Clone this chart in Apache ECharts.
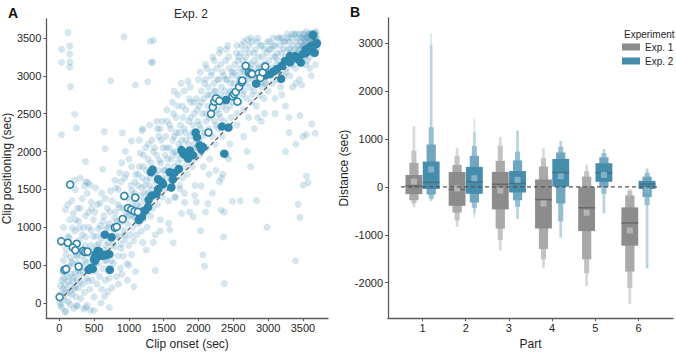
<!DOCTYPE html>
<html><head><meta charset="utf-8">
<script src="https://cdn.jsdelivr.net/npm/echarts@6/dist/echarts.min.js"></script>
<style>html,body{margin:0;padding:0;background:#fff}#c{width:676px;height:355px}</style>
</head><body><div id="c"></div>
<script>
// ---------- Panel A data (Clip onset, Clip positioning) ----------
const cloudPoints = [
[5,10],[20,120],[35,-60],[40,300],[55,190],[60,560],[70,40],[75,420],[85,250],[95,-110],[100,640],[105,130],[115,350],[125,880],[130,20],[140,480],[150,230],[155,-20],[165,600],[170,380],[180,110],[185,760],[195,290],[200,520],[210,-70],[215,180],[225,950],[230,400],[240,80],[245,640],[255,300],[260,-40],[270,520],[280,200],[290,830],[295,380],
[60,1000],[90,1230],[120,1300],[150,1100],[180,1350],[200,1180],[230,1500],[260,1250],[280,1080],[220,1620],[300,1650],[380,1600],[364,1546],[411,1589],
[310,60],[320,480],[330,700],[340,250],[350,1000],[360,140],[370,560],[380,870],[390,330],[400,-30],[410,650],[420,1200],[430,420],[440,180],[450,760],[460,960],[470,300],[480,560],[490,1100],[500,80],[510,700],[520,420],[530,880],[540,250],[550,1300],[560,520],[570,780],[580,350],[590,1020],[600,620],[610,180],[620,900],[630,450],[640,1150],[650,700],[660,300],[670,980],[680,560],[690,1250],[700,800],
[330,1380],[400,1450],[460,1330],[520,1520],[610,1450],[300,1250],[440,1560],[350,-80],[500,-100],[600,0],[650,90],[700,150],[720,-60],[720,330],[80,-120],[250,-30],[380,-60],[450,-100],
[710,420],[720,1050],[740,640],[750,860],[760,1350],[780,520],[790,960],[800,740],[810,1200],[820,350],[830,1080],[840,620],[850,1500],[860,880],[870,1260],[880,460],[890,780],[900,1100],[910,1400],[920,620],[930,960],[940,1650],[950,840],[960,1200],[970,520],[980,1050],[990,1380],[1000,760],[1010,1150],[1020,900],[1030,1550],[1040,640],[1050,1300],[1060,1000],[1070,820],[1080,1450],[1090,1120],[1100,1700],
[760,200],[850,250],[900,380],[980,300],[1072,215],[1095,416],[1000,500],[800,1620],[900,1850],[1000,1900],[870,1720],[950,2000],[623,1765],[378,1868],
[1110,900],[1120,1300],[1130,1550],[1140,1050],[1150,1800],[1160,1200],[1170,1420],[1180,950],[1190,1650],[1200,1100],[1210,1950],[1220,1350],[1230,1550],[1240,1200],[1250,1750],[1260,1000],[1270,1450],[1280,2100],[1290,1300],[1300,1650],[1310,1150],[1320,1850],[1330,1500],[1340,1250],[1350,2000],[1360,1700],[1370,1400],[1380,900],[1390,1600],[1400,1950],[1410,1300],[1420,1750],[1430,2200],[1440,1500],[1450,1100],[1460,1850],[1470,1650],[1480,1400],[1490,2050],[1500,1750],
[1378,429],[1250,700],[1350,800],[1450,950],[1200,800],[1200,2300],[1300,2350],[1400,2400],[1450,2300],[1150,2150],[647,2263],[661,2036],[906,2246],[1038,2139],[1190,2276],
[1510,1500],[1520,1950],[1530,2200],[1540,1650],[1550,2400],[1560,1800],[1570,1350],[1580,2050],[1590,1700],[1600,2300],[1610,1900],[1620,1550],[1630,2150],[1640,2500],[1650,1800],[1660,2000],[1670,1400],[1680,2250],[1690,1950],[1700,2600],[1710,1750],[1720,2100],[1730,1550],[1740,2350],[1750,1900],[1760,2150],[1770,1650],[1780,2450],[1790,2000],[1800,1800],[1810,2250],[1820,2550],[1830,1950],[1840,1700],[1850,2100],[1860,2400],[1870,1850],[1880,2200],[1890,2650],[1900,2000],[1910,1800],[1920,2350],[1930,2100],[1940,2500],[1950,1900],[1960,2250],[1970,2700],[1980,2050],[1990,2400],[2000,2150],
[1568,1053],[1590,966],[1638,795],[1661,1396],[1732,1504],[1756,1181],[1803,1331],[1874,1202],[1922,1138],[1945,1418],[1969,1331],[1950,1550],[1800,1450],[1647,2800],[1750,2900],[1850,2930],[2000,2950],
[2010,2600],[2020,1950],[2030,2300],[2040,2800],[2050,2100],[2060,2500],[2070,1800],[2080,2700],[2090,2250],[2100,2950],[2110,2400],[2120,2050],[2130,2600],[2140,2850],[2150,2300],[2160,1900],[2170,2750],[2180,2500],[2190,3050],[2200,2200],[2210,2650],[2220,2900],[2230,2400],[2240,2100],[2250,2800],[2260,3100],[2270,2550],[2280,2300],[2290,2950],[2300,2700],[2310,2450],[2320,3150],[2330,2850],[2340,2200],[2350,2600],[2360,3000],[2370,2400],[2380,2800],[2390,3200],[2400,2550],[2410,2950],[2420,2300],[2430,2750],[2440,3100],[2450,2600],[2460,2900],[2470,2450],[2480,3050],[2490,2800],[2500,2650],
[2040,1546],[2030,954],[2064,635],[2087,486],[2134,1310],[2100,1200],[2200,1450],[2323,1224],[2370,1202],[2361,872],[2370,258],[2300,1600],[2330,1650],[2350,1700],[2250,1750],[2400,1950],[2450,2100],[2488,1344],[2430,1900],[2150,1700],[2224,3200],[2100,3150],[2300,3300],[2400,3350],
[2510,2900],[2520,3150],[2530,2700],[2540,3300],[2550,2500],[2560,3000],[2570,2850],[2580,3250],[2590,2650],[2600,3100],[2610,2950],[2620,3400],[2630,2750],[2640,3200],[2650,2550],[2660,3050],[2670,2900],[2680,3350],[2690,2700],[2700,3150],[2710,3000],[2720,2450],[2730,3300],[2740,2850],[2750,3100],[2760,2650],[2770,3450],[2780,2950],[2790,3200],[2800,2800],[2810,3050],[2820,3350],[2830,2600],[2840,3150],[2850,2900],[2860,3250],[2870,3000],[2880,2750],[2890,3400],[2900,3100],[2910,2850],[2920,3250],[2930,3000],[2940,2700],[2950,3350],[2960,3150],[2970,2900],[2980,3050],[2990,3450],[3000,2800],
[2833,1353],[2600,1350],[2700,2000],[2650,2200],[2800,2300],[2950,2500],[2900,2400],[2984,1001],[2750,1800],[2550,2350],[2850,2450],[2550,3400],[2650,3450],[2750,3500],[2850,3500],[2700,3480],
[3010,3200],[3020,3450],[3030,3000],[3040,3350],[3050,3100],[3060,2900],[3070,3500],[3080,3250],[3090,3050],[3100,3400],[3110,3150],[3120,2950],[3130,3300],[3140,3500],[3150,3200],[3160,3050],[3170,3400],[3180,2850],[3190,3300],[3200,3500],[3210,3150],[3220,3350],[3230,3000],[3240,3450],[3250,3250],[3260,3100],[3270,3550],[3280,3350],[3290,3200],[3300,3450],[3310,3000],[3320,3300],[3330,3500],[3340,3150],[3350,3400],[3360,3250],[3370,3550],[3380,3350],[3390,3100],[3400,3450],[3410,3300],[3420,3500],[3430,3200],[3440,3400],[3450,3550],[3460,3350],[3470,3250],[3480,3500],[3490,3400],[3500,3300],
[3100,2700],[3200,2750],[3250,2600],[3350,2850],[3400,2900],[3450,2950],[3300,2450],[3395,558],[3432,1302],[3456,1130],[3503,1555],[3574,1589],[3551,1675],[3300,2250],[3456,2475],[3500,2200],[3400,2100],[3250,2000],[3100,2500],[3485,2878],[3627,2362],[3547,2225],[3675,2242],
[3505,3500],[3510,3400],[3520,3550],[3530,3300],[3540,3450],[3550,3580],[3560,3350],[3570,3500],[3580,3420],[3590,3550],[3600,3250],[3610,3480],[3620,3380],[3630,3560],[3640,3450],[3650,3520],[3660,3400],[3670,3570],[3680,3480],[3690,3530],[3700,3440],[3560,3200],[3600,3100],[3650,3300],[3700,3350],[3620,3000],[3680,3150],[3540,3150],[3520,3480],[3580,3530],[3640,3500],[3690,3580],[3600,3560],[3660,3470],
[127,3573],[33,3350],[33,3180],[151,3393],[151,3286],[151,3180],[151,3115],[160,2857],[222,2491],[245,2311],[33,2221],[930,3514],[1307,3457],[1355,3470],[1322,3180],[1341,3180],[741,2934],[1095,2878],[1270,2921]
];
const cloudPointsBand = [
[15,230],[45,80],[65,330],[88,170],[110,470],[135,290],[160,150],[178,540],[205,340],[232,210],[258,610],[275,430],[302,280],[322,620],[345,410],[368,760],[392,530],[415,290],[438,650],[462,420],[485,880],[20,-30],[48,410],[93,720],[143,860],[188,990],[236,1100],[285,990],[333,900],[377,1150],[423,1000],[467,1250],
[515,520],[538,760],[562,980],[585,660],[608,850],[632,1080],[655,560],[678,760],[702,1000],[725,1200],[748,560],[772,780],[795,1120],[818,880],[842,1300],[865,1050],[888,720],[912,1250],[935,900],[958,1420],[982,1150],[512,1200],[588,1320],[662,1380],[738,1480],[812,1520],[887,1600],[962,1700],
[1015,1250],[1042,1480],[1065,1150],[1088,1600],[1112,1380],[1135,1700],[1158,1280],[1182,1520],[1205,1800],[1228,1450],[1252,1620],[1275,1900],[1298,1550],[1322,1420],[1345,1780],[1368,2050],[1392,1700],[1415,1500],[1438,1880],[1462,2150],[1485,1600],[1040,1800],[1160,1980],[1240,2050],[1330,2150],[1410,2300],[1480,2400],
[1515,1750],[1538,2050],[1562,1900],[1585,2350],[1608,1620],[1632,1980],[1655,2200],[1678,2450],[1702,1850],[1725,2250],[1748,2050],[1772,2600],[1795,2300],[1818,2150],[1842,1950],[1865,2700],[1888,2450],[1912,2250],[1935,2650],[1958,2050],[1982,2550],[1545,2550],[1625,2650],[1705,2750],[1795,2800],[1880,2850],
[2015,2350],[2038,2650],[2062,2200],[2085,2900],[2108,2500],[2132,2750],[2155,2450],[2178,3000],[2202,2600],[2225,2800],[2248,2350],[2272,2950],[2295,2500],[2318,2750],[2342,3050],[2365,2650],[2388,2950],[2412,2700],[2435,3250],[2458,2800],[2482,3000],[2025,3050],[2120,3100],[2205,3250],[2310,3350],[2420,3400],
[2515,3050],[2538,2800],[2562,3200],[2585,2950],[2608,3300],[2632,3050],[2655,2800],[2678,3250],[2702,2950],[2725,3400],[2748,3150],[2772,2750],[2795,3300],[2818,3000],[2842,3450],[2865,3100],[2888,2900],[2912,3400],[2935,3150],[2958,2900],[2982,3300],
[3015,3350],[3045,3050],[3075,3400],[3105,3250],[3135,3050],[3165,3500],[3195,3150],[3225,3450],[3255,3050],[3285,3500],[3315,3350],[3345,3550],[3375,3200],[3405,3550],[3435,3350],[3465,3450],[3495,3550],[3525,3400],[3555,3500],[3585,3350],[3615,3520],[3645,3420],[3675,3530],[3705,3480],[3525,3250],[3575,3450],[3625,3300],[3665,3560]
];
const filledPoints = [
[420,438],[453,464],[482,451],[500,580],[514,558],[520,615],[548,610],[524,644],[552,687],[571,679],[599,644],[623,622],[670,631],[690,644],[718,644],[727,438],[656,902],[751,867],
[1143,1095],[1161,1138],[1190,1138],[1208,1211],[1237,1224],[1275,1267],[1284,1362],[1327,1418],[1397,1439],[1421,1504],[1421,1633],[1468,1598],[1492,1568],[1586,1727],[1610,1525],[1633,1633],[1657,1718],[1718,1769],[1317,1727],[1340,1760],
[1756,2019],[1780,1976],[1803,1955],[1851,1907],[1874,2014],[1922,1950],[1959,2251],[1978,2187],[2016,2079],[2040,2027],[2064,2058],[2370,1972],[2337,2329],[2431,2316],[2394,2680],[2828,2896],
[2960,3003],[3031,3024],[3079,3058],[3126,3089],[3187,2960],[3197,3131],[3244,3196],[3314,3260],[3314,3179],[3432,3218],[3470,3174],[3574,3325],[3622,3347],[3692,3419],[3669,3303],[3645,3540],[3350,3230],[3390,3260],[3500,3290],[3540,3300],[3600,3380],[3650,3400],[3700,3430],[3540,3350]
];
const hollowPoints = [
[5,77],[75,438],[99,447],[279,481],[28,816],[123,795],[250,782],[194,731],[231,696],[344,687],[373,674],[406,679],[156,1563],[798,996],[826,1005],[911,1108],[935,1413],[987,1254],[1034,1233],[1081,1211],[1129,1202],[1091,1392],
[2143,2251],[2181,2496],[2205,2586],[2228,2659],[2252,2702],[2299,2668],[2488,2732],[2512,2758],[2535,2787],[2559,2659],[2583,2852],[2620,2916],[2630,2938],[2677,3131],[2724,3045],[2748,3032],[2771,3024],[2866,3032],[2890,2973],[2922,3045],[2960,3123]
];
const diagonalLine = [[0,30],[3680,3510]];
const ticksA = [0,500,1000,1500,2000,2500,3000,3500];

// ---------- Panel B data (letter-value boxes: [low, high] from inner to outer level) ----------
const parts = [1,2,3,4,5,6];
const exp1Levels = [
  [[-150,250],[-278,500],[-345,758],[-427,1266]],
  [[-394,311],[-536,460],[-699,650],[-834,819]],
  [[-468,315],[-870,545],[-1110,860],[-1329,1043]],
  [[-868,155],[-1295,425],[-1512,602],[-1701,805]],
  [[-922,0],[-1512,215],[-1803,331],[-2073,467]],
  [[-1227,-427],[-1768,-177],[-2108,-75],[-2447,-40]]
];
const exp1Median = [20,-55,57,-264,-435,-752];
const exp1Mean = [114,-30,-72,-346,-537,-908];
const exp2Levels = [
  [[-41,530],[-157,886],[-245,1246],[-292,2973],[-300,3210]],
  [[-143,419],[-325,650],[-435,853],[-550,1144],[-650,1435]],
  [[-116,331],[-278,555],[-414,738],[-671,1179]],
  [[6,585],[-346,720],[-719,839],[-1057,961]],
  [[108,495],[-8,618],[-143,705],[-550,795]],
  [[-41,128],[-211,215],[-380,297],[-1701,386]]
];
const exp2Median = [95,108,75,300,297,61];
const exp2Mean = [366,182,148,222,250,-61];
const ticksBY = [-2000,-1000,0,1000,2000,3000];

// ---------- styling ----------
const levelWidths = [1, 0.55, 0.3, 0.16, 0.1];
const fullWidth = 0.39;
const grayShades = ['#8c8c8c','#a9a9a9','#c3c3c3','#d9d9d9','#e9e9e9'];
const blueShades = ['#468dab','#70a6bf','#96bed1','#b9d4e1','#d5e5ed'];

function buildBoxData(levels, medians, means, offset) {
  const out = [];
  levels.forEach((lv, i) => {
    for (let k = lv.length - 1; k >= 0; k--) {
      out.push([parts[i] + offset, lv[k][0], lv[k][1], k, medians[i], means[i]]);
    }
  });
  return out;
}
function makeRender(shades, medColor, meanColor) {
  return function (params, api) {
    const x = api.value(0), lo = api.value(1), hi = api.value(2), lvl = api.value(3);
    const w = fullWidth * levelWidths[lvl];
    const p1 = api.coord([x - w / 2, hi]);
    const p2 = api.coord([x + w / 2, lo]);
    const children = [{
      type: 'rect',
      shape: { x: p1[0], y: p1[1], width: p2[0] - p1[0], height: p2[1] - p1[1] },
      style: { fill: shades[lvl] }
    }];
    if (lvl === 0) {
      const m = api.coord([x, api.value(4)]);
      children.push({ type: 'line', shape: { x1: p1[0], y1: m[1], x2: p2[0], y2: m[1] },
        style: { stroke: medColor, lineWidth: 1.4 } });
      const mn = api.coord([x, api.value(5)]);
      children.push({ type: 'rect', shape: { x: mn[0] - 3, y: mn[1] - 3, width: 6, height: 6 },
        style: { fill: meanColor } });
    }
    return { type: 'group', children: children };
  };
}

const plainNum = v => String(v);
const axisCommon = {
  axisLine: { show: true, onZero: false, lineStyle: { color: '#5a5a5a', width: 1.3 } },
  axisTick: { show: true, length: 3, lineStyle: { color: '#5a5a5a' } },
  splitLine: { show: false },
  axisLabel: { color: '#262626', fontSize: 11, formatter: plainNum },
  nameTextStyle: { color: '#262626', fontSize: 12 }
};

const chart = echarts.init(document.getElementById('c'), null, { renderer: 'svg' });
chart.setOption({
  animation: false,
  textStyle: { fontFamily: 'Liberation Sans, Arial, sans-serif' },
  title: [
    { text: 'A', left: 3, top: 1, textStyle: { fontSize: 14, fontWeight: 'bold', color: '#111' } },
    { text: 'B', left: 345, top: 0, textStyle: { fontSize: 14, fontWeight: 'bold', color: '#111' } },
    { text: 'Exp. 2', left: 169, top: 3, textStyle: { fontSize: 12, fontWeight: 'normal', color: '#262626' } },
    { text: 'Experiment', left: 619, top: 24, textStyle: { fontSize: 10, fontWeight: 'normal', color: '#262626' } }
  ],
  legend: {
    data: ['Exp. 1', 'Exp. 2'], orient: 'vertical', left: 617, top: 37,
    itemWidth: 18, itemHeight: 7, itemGap: 4, icon: 'rect',
    textStyle: { fontSize: 10, color: '#262626' }
  },
  grid: [
    { left: 43, top: 19, width: 285, height: 307 },
    { left: 388, top: 18, width: 285, height: 308 }
  ],
  xAxis: [
    Object.assign({}, axisCommon, {
      gridIndex: 0, type: 'value', min: -185, max: 3860,
      name: 'Clip onset (sec)', nameLocation: 'middle', nameGap: 15,
      axisLabel: Object.assign({}, axisCommon.axisLabel, { customValues: ticksA, margin: 4 }),
      axisTick: Object.assign({}, axisCommon.axisTick, { customValues: ticksA })
    }),
    Object.assign({}, axisCommon, {
      gridIndex: 1, type: 'value', min: 0.2, max: 6.8,
      name: 'Part', nameLocation: 'middle', nameGap: 15,
      axisLabel: Object.assign({}, axisCommon.axisLabel, { customValues: parts, margin: 4 }),
      axisTick: Object.assign({}, axisCommon.axisTick, { customValues: parts })
    })
  ],
  yAxis: [
    Object.assign({}, axisCommon, {
      gridIndex: 0, type: 'value', min: -200, max: 3750,
      name: 'Clip positioning (sec)', nameLocation: 'middle', nameGap: 30,
      axisLabel: Object.assign({}, axisCommon.axisLabel, { customValues: ticksA, margin: 5 }),
      axisTick: Object.assign({}, axisCommon.axisTick, { customValues: ticksA })
    }),
    Object.assign({}, axisCommon, {
      gridIndex: 1, type: 'value', min: -2740, max: 3530,
      name: 'Distance (sec)', nameLocation: 'middle', nameGap: 38,
      axisLabel: Object.assign({}, axisCommon.axisLabel, { customValues: ticksBY, margin: 5 }),
      axisTick: Object.assign({}, axisCommon.axisTick, { customValues: ticksBY })
    })
  ],
  series: [
    { type: 'scatter', xAxisIndex: 0, yAxisIndex: 0, data: cloudPoints, symbolSize: 7, silent: true,
      itemStyle: { color: '#3f8fb5', opacity: 0.22 }, z: 1 },
    { type: 'scatter', xAxisIndex: 0, yAxisIndex: 0, data: cloudPointsBand, symbolSize: 7, silent: true,
      itemStyle: { color: '#3f8fb5', opacity: 0.22 }, z: 1 },
    { type: 'line', xAxisIndex: 0, yAxisIndex: 0, data: diagonalLine, symbol: 'none', silent: true,
      lineStyle: { color: '#555', width: 1.2, type: [4, 3] }, z: 2 },
    { type: 'scatter', xAxisIndex: 0, yAxisIndex: 0, data: filledPoints, symbolSize: 8.5, silent: true,
      itemStyle: { color: '#2f86ab', opacity: 1 }, z: 3 },
    { type: 'scatter', xAxisIndex: 0, yAxisIndex: 0, data: hollowPoints, symbolSize: 7, silent: true,
      itemStyle: { color: '#ffffff', borderColor: '#2f86ab', borderWidth: 1.6, opacity: 1 }, z: 4 },
    { name: 'Exp. 1', type: 'custom', xAxisIndex: 1, yAxisIndex: 1,
      data: buildBoxData(exp1Levels, exp1Median, exp1Mean, -0.2),
      renderItem: makeRender(grayShades, '#666666', '#b4b4b4'),
      itemStyle: { color: '#8c8c8c' }, encode: { x: 0, y: [1, 2] }, z: 2 },
    { name: 'Exp. 2', type: 'custom', xAxisIndex: 1, yAxisIndex: 1,
      data: buildBoxData(exp2Levels, exp2Median, exp2Mean, 0.2),
      renderItem: makeRender(blueShades, '#4a6f80', '#80b3c9'),
      itemStyle: { color: '#468dab' }, encode: { x: 0, y: [1, 2] }, z: 2 },
    { type: 'line', xAxisIndex: 1, yAxisIndex: 1, data: [[0.5, 0], [6.5, 0]], symbol: 'none', silent: true,
      lineStyle: { color: '#555', width: 1.2, type: [4, 3] }, z: 5 }
  ]
});
</script>
</body></html>
